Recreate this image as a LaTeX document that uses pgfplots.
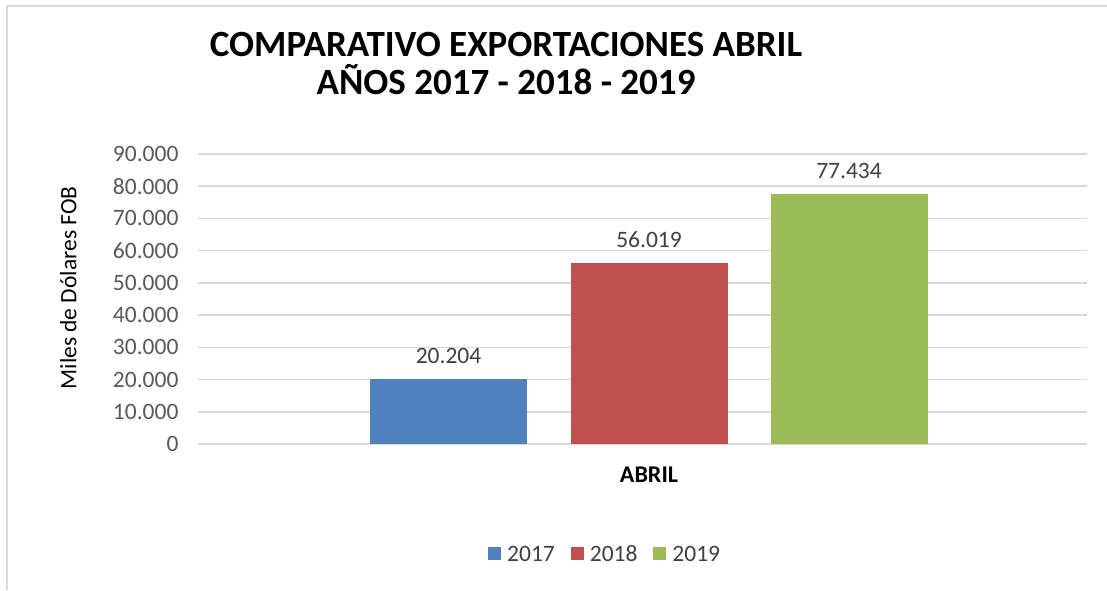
\documentclass[border=0pt]{standalone}
\usepackage{fontspec}
\setmainfont{Carlito}
\usepackage{pgfplots}
\pgfplotsset{compat=1.18}
\definecolor{c17}{HTML}{4F81BD}
\definecolor{c18}{HTML}{C0504D}
\definecolor{c19}{HTML}{9BBB59}
\definecolor{gridgray}{HTML}{D9D9D9}
\definecolor{ticktext}{HTML}{595959}
\definecolor{labtext}{HTML}{404040}
\pgfkeys{/pgf/number format/.cd, fixed, precision=0, 1000 sep={.}, assume math mode=true}
\begin{document}
\begin{tikzpicture}[x=1pt,y=1pt]
\path[use as bounding box] (0,0) rectangle (1107,590);
\draw[color=gridgray, line width=1.5pt] (7,0) -- (7,584) -- (1107,584);
\begin{axis}[
  at={(198pt,146pt)}, anchor=south west,
  scale only axis, width=889pt, height=290pt,
  xmin=198, xmax=1087, ymin=0, ymax=90000,
  ybar, bar width=157,
  ytick={0,10000,...,90000},
  scaled y ticks=false,
  xtick={649}, xticklabels={ABRIL},
  xticklabel style={font=\bfseries\fontsize{24}{28}\selectfont, text=black, yshift=-19pt},
  yticklabel style={font=\fontsize{23.5}{27}\selectfont, text=ticktext, xshift=-16pt},
  major tick length=0pt,
  axis line style={draw=none},
  ymajorgrids, major grid style={color=gridgray, line width=1.5pt},
  ylabel={Miles de Dólares FOB},
  ylabel style={at={(axis description cs:-0.146,0.538)}, anchor=center, font=\fontsize{23.5}{27}\selectfont, text=black},
  title={COMPARATIVO EXPORTACIONES ABRIL\\AÑOS 2017 - 2018 - 2019},
  title style={at={(axis description cs:0.3465,1.291)}, anchor=center, align=center, font=\bfseries\fontsize{37}{38}\selectfont},
  nodes near coords,
  nodes near coords style={font=\fontsize{23.5}{27}\selectfont, text=labtext, yshift=12pt},
  legend style={at={(axis description cs:0.458,-0.378)}, anchor=center, draw=none, legend columns=3,
    font=\fontsize{23.5}{27}\selectfont, text=labtext, nodes={inner xsep=2pt, text height=15pt, text depth=0pt},
    /tikz/every odd column/.append style={column sep=4pt},
    /tikz/every even column/.append style={column sep=14pt}},
  legend image code/.code={\fill[#1] (0pt,-6.5pt) rectangle (13pt,6.5pt);},
]
\addplot[fill=c17, draw=none, bar shift=0pt] coordinates {(448.5,20204)};
\addplot[fill=c18, draw=none, bar shift=0pt] coordinates {(649,56019)};
\addplot[fill=c19, draw=none, bar shift=0pt] coordinates {(849,77434)};
\legend{2017,2018,2019}
\end{axis}
\end{tikzpicture}
\end{document}
